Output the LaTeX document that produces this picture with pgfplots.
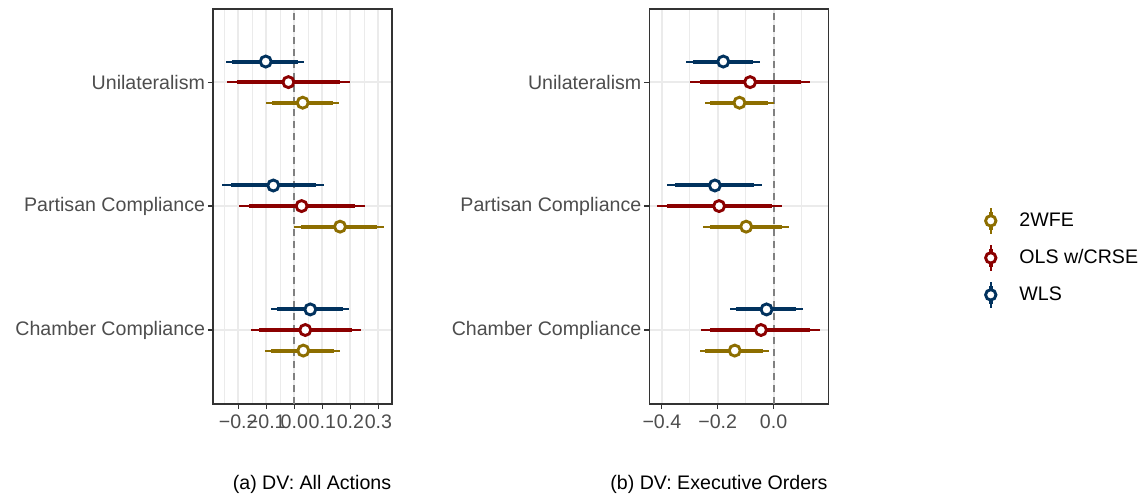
\documentclass[border=0pt]{standalone}
\usepackage{pgfplots}
\pgfplotsset{compat=1.18}
\usepackage{pgfplotstable}
\usepackage{fontspec}
\setmainfont{Liberation Sans}
\definecolor{cgold}{HTML}{8D6E00}
\definecolor{cred}{HTML}{8B0000}
\definecolor{cnavy}{HTML}{01325E}
\definecolor{txtgray}{HTML}{4D4D4D}
\definecolor{gridgray}{HTML}{EBEBEB}

% columns: y est lo95 hi95 lo90 hi90
\pgfplotstableread{
y est lo95 hi95 lo90 hi90
1.166 0.057 -0.083 0.194 -0.062 0.173
2.166 -0.075 -0.258 0.105 -0.227 0.076
3.166 -0.102 -0.244 0.036 -0.221 0.014
}\aWLS
\pgfplotstableread{
y est lo95 hi95 lo90 hi90
1 0.039 -0.156 0.237 -0.125 0.206
2 0.026 -0.199 0.251 -0.162 0.215
3 -0.021 -0.239 0.198 -0.204 0.163
}\aOLS
\pgfplotstableread{
y est lo95 hi95 lo90 hi90
0.834 0.032 -0.105 0.164 -0.083 0.143
1.834 0.163 0.000 0.320 0.024 0.294
2.834 0.030 -0.102 0.158 -0.081 0.137
}\aTWFE
\pgfplotstableread{
y est lo95 hi95 lo90 hi90
1.166 -0.025 -0.156 0.105 -0.135 0.082
2.166 -0.210 -0.380 -0.043 -0.353 -0.070
3.166 -0.180 -0.312 -0.050 -0.290 -0.073
}\bWLS
\pgfplotstableread{
y est lo95 hi95 lo90 hi90
1 -0.045 -0.260 0.166 -0.228 0.130
2 -0.195 -0.416 0.030 -0.381 -0.007
3 -0.084 -0.299 0.130 -0.264 0.097
}\bOLS
\pgfplotstableread{
y est lo95 hi95 lo90 hi90
0.834 -0.139 -0.263 -0.017 -0.245 -0.037
1.834 -0.098 -0.251 0.054 -0.226 0.029
2.834 -0.122 -0.244 0.000 -0.226 -0.020
}\bTWFE

\pgfplotsset{
  panel/.style={
    scale only axis, width=89.6pt, height=197.5pt,
    ymin=0.403, ymax=3.59,
    ytick={1,2,3},
    yticklabels={Chamber Compliance,Partisan Compliance,Unilateralism},
    tick pos=left, tick align=outside,
    major tick length=2.6pt, minor tick length=0pt,
    tick style={color=black!80, line width=0.6pt},
    axis line style={color=black!80, line width=0.7pt},
    xmajorgrids, ymajorgrids, xminorgrids,
    major grid style={color=gridgray, line width=1pt},
    minor grid style={color=gridgray, line width=0.5pt},
    tick label style={font=\fontsize{9.8}{11}\selectfont, text=txtgray},
    yticklabel style={inner sep=1.2pt},
    xticklabel style={inner sep=1pt, yshift=-1.8pt},
  },
  ci95/.style={forget plot, draw=none, mark=none,
    error bars/.cd, x dir=both, x explicit, error mark=none,
    error bar style={line width=1pt, color=#1}},
  ci90/.style={forget plot, draw=none, mark=none,
    error bars/.cd, x dir=both, x explicit, error mark=none,
    error bar style={line width=2pt, color=#1}},
  pt/.style={forget plot, only marks, mark=*, mark size=2.75pt,
    mark options={fill=white, draw=#1, line width=1.45pt}},
  legkey/.style={legend image code/.code={
    \draw[line width=1.1pt, #1] (0pt,-6.4pt) -- (0pt,6.4pt);
    \draw[line width=2.2pt, #1] (0pt,-4.5pt) -- (0pt,4.5pt);
    \draw[line width=1.45pt, draw=#1, fill=white] (0pt,0pt) circle (2.6pt);
  }},
}

\newcommand{\series}[2]{%
  \addplot[ci95=#2] table[x=est, y=y,
    x error plus expr=\thisrow{hi95}-\thisrow{est},
    x error minus expr=\thisrow{est}-\thisrow{lo95}] {#1};
  \addplot[ci90=#2] table[x=est, y=y,
    x error plus expr=\thisrow{hi90}-\thisrow{est},
    x error minus expr=\thisrow{est}-\thisrow{lo90}] {#1};
  \addplot[pt=#2] table[x=est, y=y] {#1};
}

\begin{document}
\begin{tikzpicture}
\path (0,0) rectangle (572pt,247.5pt);

\begin{axis}[panel, at={(106.5pt,45.5pt)}, anchor=south west,
  xmin=-0.29, xmax=0.349,
  xtick={-0.2,-0.1,0,0.1,0.2,0.3},
  xticklabels={−0.2,−0.1,0.0,0.1,0.2,0.3},
  minor xtick={-0.25,-0.15,-0.05,0.05,0.15,0.25},
]
\addplot[forget plot, color=black!50, line width=1pt, dash pattern=on 3.5pt off 2.5pt] coordinates {(0,0.403) (0,3.59)};
\series{\aWLS}{cnavy}
\series{\aOLS}{cred}
\series{\aTWFE}{cgold}
\end{axis}

\begin{axis}[panel, at={(324.65pt,45.5pt)}, anchor=south west,
  xmin=-0.445, xmax=0.197,
  xtick={-0.4,-0.2,0},
  xticklabels={−0.4,−0.2,0.0},
  minor xtick={-0.3,-0.1,0.1},
  legend style={at={(1.866,0.37)}, anchor=west, draw=none, fill=none,
    font=\fontsize{9.8}{11}\selectfont, row sep=4.6pt,
    inner sep=0pt, legend cell align=left,
    /tikz/every odd column/.append style={column sep=9pt}},
]
\addplot[forget plot, color=black!50, line width=1pt, dash pattern=on 3.5pt off 2.5pt] coordinates {(0,0.403) (0,3.59)};
\series{\bWLS}{cnavy}
\series{\bOLS}{cred}
\series{\bTWFE}{cgold}
\addlegendimage{legkey=cgold}
\addlegendentry{2WFE}
\addlegendimage{legkey=cred}
\addlegendentry{OLS w/CRSE}
\addlegendimage{legkey=cnavy}
\addlegendentry{WLS}
\end{axis}

\node[anchor=base, font=\fontsize{9.8}{11}\selectfont] at (156pt,2.6pt) {(a) DV: All Actions};
\node[anchor=base, font=\fontsize{9.8}{11}\selectfont] at (359.5pt,2.6pt) {(b) DV: Executive Orders};
\end{tikzpicture}
\end{document}
